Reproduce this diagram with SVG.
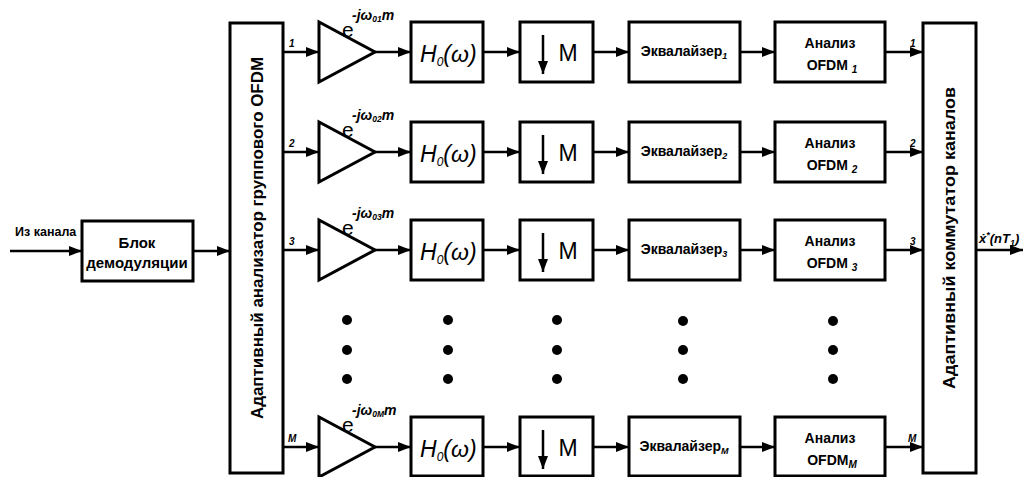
<svg xmlns="http://www.w3.org/2000/svg" width="1023" height="477" viewBox="0 0 1023 477">
<defs>
<marker id="ah" markerUnits="userSpaceOnUse" markerWidth="14" markerHeight="10" refX="13" refY="5" orient="auto">
<path d="M0,0 L13,5 L0,10 Z" fill="#000"/>
</marker>
</defs>
<style>
.box{fill:#fff;stroke:#000;stroke-width:3}
.ln{fill:none;stroke:#000;stroke-width:2.5}
text{font-family:"Liberation Sans",Arial,sans-serif;fill:#000}
.b{font-weight:bold}
.lbl{font-size:14px;font-weight:bold;text-anchor:middle}
.big{font-size:17px;font-weight:bold;text-anchor:middle}
.dm{font-size:15px;font-weight:bold;text-anchor:middle}
.mm{font-size:23px;text-anchor:middle}
.num{font-size:10px;font-weight:bold;font-style:italic}
.exp{font-size:14px;font-weight:bold;font-style:italic}
.e{font-size:21px}
.h{font-size:23px;font-style:italic}
.dot{fill:#000}
</style>
<rect width="1023" height="477" fill="#fff"/>

<g id="connectors">
<line class="ln" x1="10" y1="251" x2="82" y2="251" marker-end="url(#ah)"/>
<line class="ln" x1="193" y1="251" x2="230" y2="251" marker-end="url(#ah)"/>
<line class="ln" x1="976" y1="250" x2="1023" y2="250" marker-end="url(#ah)"/>
<g id="row1-links">
<line class="ln" x1="283" y1="52" x2="319" y2="52" marker-end="url(#ah)"/>
<line class="ln" x1="375" y1="52" x2="411" y2="52" marker-end="url(#ah)"/>
<line class="ln" x1="483" y1="52" x2="520" y2="52" marker-end="url(#ah)"/>
<line class="ln" x1="593" y1="52" x2="629" y2="52" marker-end="url(#ah)"/>
<line class="ln" x1="740" y1="52" x2="775" y2="52" marker-end="url(#ah)"/>
<line class="ln" x1="885" y1="52" x2="923" y2="52" marker-end="url(#ah)"/>
</g>
<g id="row2-links">
<line class="ln" x1="283" y1="152" x2="319" y2="152" marker-end="url(#ah)"/>
<line class="ln" x1="375" y1="152" x2="411" y2="152" marker-end="url(#ah)"/>
<line class="ln" x1="483" y1="152" x2="520" y2="152" marker-end="url(#ah)"/>
<line class="ln" x1="593" y1="152" x2="629" y2="152" marker-end="url(#ah)"/>
<line class="ln" x1="740" y1="152" x2="775" y2="152" marker-end="url(#ah)"/>
<line class="ln" x1="885" y1="152" x2="923" y2="152" marker-end="url(#ah)"/>
</g>
<g id="row3-links">
<line class="ln" x1="283" y1="250" x2="319" y2="250" marker-end="url(#ah)"/>
<line class="ln" x1="375" y1="250" x2="411" y2="250" marker-end="url(#ah)"/>
<line class="ln" x1="483" y1="250" x2="520" y2="250" marker-end="url(#ah)"/>
<line class="ln" x1="593" y1="250" x2="629" y2="250" marker-end="url(#ah)"/>
<line class="ln" x1="740" y1="250" x2="775" y2="250" marker-end="url(#ah)"/>
<line class="ln" x1="885" y1="250" x2="923" y2="250" marker-end="url(#ah)"/>
</g>
<g id="rowM-links">
<line class="ln" x1="283" y1="447" x2="319" y2="447" marker-end="url(#ah)"/>
<line class="ln" x1="375" y1="447" x2="411" y2="447" marker-end="url(#ah)"/>
<line class="ln" x1="483" y1="447" x2="520" y2="447" marker-end="url(#ah)"/>
<line class="ln" x1="593" y1="447" x2="629" y2="447" marker-end="url(#ah)"/>
<line class="ln" x1="740" y1="447" x2="775" y2="447" marker-end="url(#ah)"/>
<line class="ln" x1="885" y1="447" x2="923" y2="447" marker-end="url(#ah)"/>
</g>
<text class="num" x="289" y="47">1</text>
<text class="num" x="289" y="147">2</text>
<text class="num" x="289" y="245">3</text>
<text class="num" x="288" y="442">M</text>
<text class="num" x="910" y="47">1</text>
<text class="num" x="910" y="147">2</text>
<text class="num" x="910" y="245">3</text>
<text class="num" x="908" y="442">M</text>
<text x="15" y="236" font-size="12.5" class="b">Из канала</text>
<text x="979" y="243" font-size="13" font-weight="bold" font-style="italic">ẋ<tspan font-size="9" dy="-5">*</tspan><tspan dy="5">(nT</tspan><tspan font-size="9" dy="3">1</tspan><tspan dy="-3">)</tspan></text>
</g>

<g id="demod">
<rect class="box" x="82" y="221" width="111" height="60"/>
<text class="dm" x="137" y="248">Блок</text>
<text class="dm" x="137" y="268">демодуляции</text>
</g>

<g id="analyzer">
<rect class="box" x="230" y="23" width="53" height="450"/>
<text class="big" transform="translate(263,238) rotate(-90)" textLength="362" lengthAdjust="spacingAndGlyphs">Адаптивный анализатор группового OFDM</text>
</g>

<g id="commutator">
<rect class="box" x="923" y="23" width="53" height="450"/>
<text class="big" transform="translate(955,238) rotate(-90)" textLength="302" lengthAdjust="spacingAndGlyphs">Адаптивный коммутатор каналов</text>
</g>

<g id="row1">
<g id="mul1"><path class="box" d="M319,22 L319,82 L375,52 Z"/>
<text class="e" x="342" y="37">e</text><text class="exp" x="352" y="20">-jω<tspan font-size="8.5" dy="2">01</tspan><tspan dy="-2">m</tspan></text></g>
<g id="h1"><rect class="box" x="411" y="22" width="72" height="60"/><text class="h" x="420" y="62">H<tspan font-size="12" dy="4">0</tspan><tspan dy="-4">(ω)</tspan></text></g>
<g id="d1"><rect class="box" x="520" y="22" width="73" height="60"/><line class="ln" x1="543" y1="35" x2="543" y2="74" marker-end="url(#ah)"/><text class="mm" x="568" y="61">M</text></g>
<g id="eq1"><rect class="box" x="629" y="22" width="111" height="60"/><text class="lbl" x="684" y="56">Эквалайзер<tspan font-size="9" font-style="italic" dy="3">1</tspan></text></g>
<g id="an1"><rect class="box" x="775" y="22" width="110" height="60"/><text class="lbl" x="830" y="48">Анализ</text><text class="lbl" x="832" y="70">OFDM <tspan font-size="10" font-style="italic" dy="3">1</tspan></text></g>
</g>

<g id="row2">
<g id="mul2"><path class="box" d="M319,122 L319,182 L375,152 Z"/>
<text class="e" x="342" y="137">e</text><text class="exp" x="352" y="120">-jω<tspan font-size="8.5" dy="2">02</tspan><tspan dy="-2">m</tspan></text></g>
<g id="h2"><rect class="box" x="411" y="122" width="72" height="60"/><text class="h" x="420" y="162">H<tspan font-size="12" dy="4">0</tspan><tspan dy="-4">(ω)</tspan></text></g>
<g id="d2"><rect class="box" x="520" y="122" width="73" height="60"/><line class="ln" x1="543" y1="135" x2="543" y2="174" marker-end="url(#ah)"/><text class="mm" x="568" y="161">M</text></g>
<g id="eq2"><rect class="box" x="629" y="122" width="111" height="60"/><text class="lbl" x="684" y="156">Эквалайзер<tspan font-size="9" font-style="italic" dy="3">2</tspan></text></g>
<g id="an2"><rect class="box" x="775" y="122" width="110" height="60"/><text class="lbl" x="830" y="148">Анализ</text><text class="lbl" x="832" y="170">OFDM <tspan font-size="10" font-style="italic" dy="3">2</tspan></text></g>
</g>

<g id="row3">
<g id="mul3"><path class="box" d="M319,220 L319,280 L375,250 Z"/>
<text class="e" x="342" y="235">e</text><text class="exp" x="352" y="218">-jω<tspan font-size="8.5" dy="2">03</tspan><tspan dy="-2">m</tspan></text></g>
<g id="h3"><rect class="box" x="411" y="220" width="72" height="60"/><text class="h" x="420" y="260">H<tspan font-size="12" dy="4">0</tspan><tspan dy="-4">(ω)</tspan></text></g>
<g id="d3"><rect class="box" x="520" y="220" width="73" height="60"/><line class="ln" x1="543" y1="233" x2="543" y2="272" marker-end="url(#ah)"/><text class="mm" x="568" y="259">M</text></g>
<g id="eq3"><rect class="box" x="629" y="220" width="111" height="60"/><text class="lbl" x="684" y="254">Эквалайзер<tspan font-size="9" font-style="italic" dy="3">3</tspan></text></g>
<g id="an3"><rect class="box" x="775" y="220" width="110" height="60"/><text class="lbl" x="830" y="246">Анализ</text><text class="lbl" x="832" y="268">OFDM <tspan font-size="10" font-style="italic" dy="3">3</tspan></text></g>
</g>

<g id="dots">
<circle class="dot" cx="347" cy="320" r="5"/><circle class="dot" cx="347" cy="350" r="5"/><circle class="dot" cx="347" cy="379" r="5"/>
<circle class="dot" cx="448" cy="320" r="5"/><circle class="dot" cx="448" cy="350" r="5"/><circle class="dot" cx="448" cy="379" r="5"/>
<circle class="dot" cx="557" cy="320" r="5"/><circle class="dot" cx="557" cy="350" r="5"/><circle class="dot" cx="557" cy="379" r="5"/>
<circle class="dot" cx="683" cy="321" r="5"/><circle class="dot" cx="683" cy="350" r="5"/><circle class="dot" cx="683" cy="379" r="5"/>
<circle class="dot" cx="833" cy="321" r="5"/><circle class="dot" cx="833" cy="350" r="5"/><circle class="dot" cx="833" cy="379" r="5"/>
</g>

<g id="rowM">
<g id="mulM"><path class="box" d="M319,417 L319,477 L375,447 Z"/>
<text class="e" x="342" y="432">e</text><text class="exp" x="352" y="415">-jω<tspan font-size="8.5" dy="2">0M</tspan><tspan dy="-2">m</tspan></text></g>
<g id="hM"><rect class="box" x="411" y="417" width="72" height="59"/><text class="h" x="420" y="457">H<tspan font-size="12" dy="4">0</tspan><tspan dy="-4">(ω)</tspan></text></g>
<g id="dM"><rect class="box" x="520" y="417" width="73" height="59"/><line class="ln" x1="543" y1="430" x2="543" y2="469" marker-end="url(#ah)"/><text class="mm" x="568" y="456">M</text></g>
<g id="eqM"><rect class="box" x="629" y="417" width="111" height="59"/><text class="lbl" x="684" y="451">Эквалайзер<tspan font-size="9" font-style="italic" dy="3">M</tspan></text></g>
<g id="anM"><rect class="box" x="775" y="417" width="110" height="59"/><text class="lbl" x="830" y="443">Анализ</text><text class="lbl" x="832" y="465">OFDM<tspan font-size="10" font-style="italic" dy="3">M</tspan></text></g>
</g>
</svg>
